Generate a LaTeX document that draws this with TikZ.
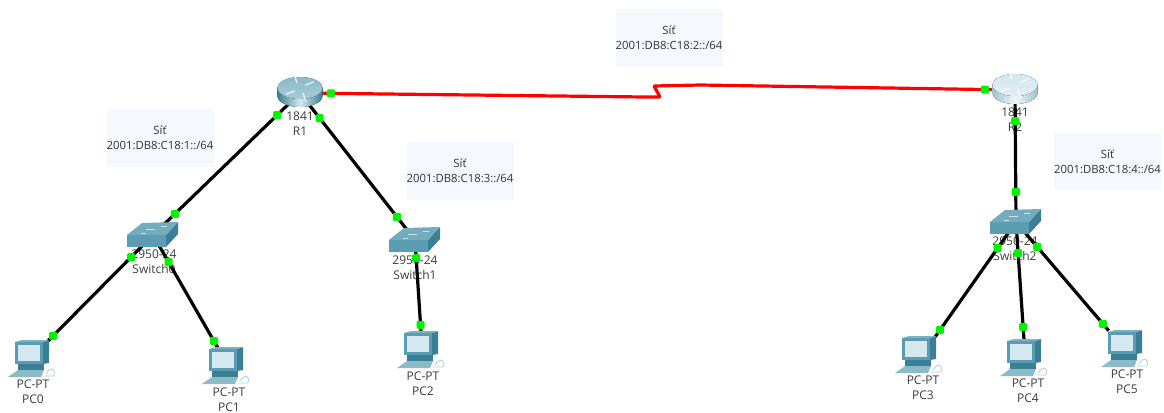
\documentclass[tikz,border=0pt]{standalone}
\usepackage{fontspec}
\setmainfont{Open Sans}
\usetikzlibrary{positioning}
\definecolor{mNetBox}{HTML}{F6F8FF}
\definecolor{mLabel}{HTML}{3C3C3C}
\definecolor{mPort}{HTML}{00F400}
\definecolor{mRed}{HTML}{FF0000}
\definecolor{mTeal}{HTML}{5A9DB2}
\definecolor{mTealDark}{HTML}{3A7F93}
\definecolor{mTealTop}{HTML}{8ABACA}
\definecolor{mScreen}{HTML}{D5E8EF}
\tikzset{
  netbox/.style={fill=mNetBox, minimum width=80.25pt, minimum height=43pt, inner sep=0pt, align=center, text=black!80, font=\fontsize{8.5}{11.2}\selectfont},
  devlabel/.style={inner sep=0pt, align=center, text=mLabel, font=\fontsize{9}{11.2}\selectfont},
  devnode/.style={inner sep=0pt, minimum size=0pt},
  pcnode/.style={inner sep=0pt, minimum width=24pt, minimum height=21pt},
  link/.style={line width=2.4pt, black},
  serial/.style={line width=2.4pt, mRed},
  portdot/.style={fill=mPort, minimum size=6pt, inner sep=0pt, rounded corners=1pt},
  pics/routericon/.style n args={3}{code={
    \fill[left color=#1, right color=#1, middle color=#2] (-22.5,-5) -- (-22.5,3) arc[start angle=180, end angle=0, x radius=22.5, y radius=11] -- (22.5,-5) -- cycle;
    \fill[top color=#3, bottom color=#3!75!white] (0,-5) ellipse[x radius=22.5, y radius=11];
    \foreach \r in {20,110,200,290} {
      \draw[white!75!#3, line width=1.1pt, rotate around={\r:(0,-5)}] (6,-6) -- (15,-6);
    }
  }},
  pics/switchicon/.style={code={
    \fill[mTeal] (-26,0) rectangle (13,12);
    \fill[mTealDark] (13,0) -- (25,-13) -- (25,-1) -- (13,12) -- cycle;
    \fill[mTeal!85!white] (-26,0) -- (-11,-12) -- (25,-13) -- (13,0) -- cycle;
    \draw[white!70!mTeal, line width=.7pt] (-7,-6) -- (2,-6) (8,-9) -- (14,-9) (-12,-2) -- (-7,-2);
  }},
  pics/pcicon/.style={code={
    \fill[mTealDark] (11,-13) -- (17,-15) -- (17,8) -- (11,9) -- cycle;
    \fill[mTeal!80!white] (-17,-13) -- (-10,-15) -- (17,-15) -- (11,-13) -- cycle;
    \fill[mTeal] (-17,-13) rectangle (11,9);
    \fill[mScreen] (-14,-10) rectangle (8,6);
    \fill[mTealDark] (-14,9) rectangle (12,15);
    \fill[mTeal!70!white] (-14,15) -- (12,15) -- (9,22) -- (-24,22) -- cycle;
    \draw[mTeal!50!white, line width=.6pt] (14,19) .. controls (18,12) and (24,12) .. (22,21) -- (12,21);
  }},
}

\begin{document}
\begin{tikzpicture}[x=0.75pt, y=-0.75pt]
    \useasboundingbox (0,0) rectangle (1164,412);
    % network labels
    \foreach \n/\x/\y/\k in {N1/160/138/1, N2/669/38/2, N3/460/171/3, N4/1107.5/161.5/4} {
      \node[netbox] (\n) at (\x,\y) {Síť\\2001:DB8:C18:\k::/64};
    }
    % devices
    \node[devnode] (R1) at (300,93) {};
    \node[devnode] (R2) at (1015,90) {};
    \node[devnode] (S0) at (153,235) {};
    \node[devnode] (S1) at (415,240) {};
    \node[devnode] (S2) at (1016,222) {};
    \foreach \n/\x/\y in {PC0/32/355, PC1/226/362, PC2/421/346, PC3/919/351, PC4/1024/354, PC5/1125/345} {
      \node[pcnode] (\n) at (\x,\y) {};
    }
    % captions
    \node[devlabel] (lblR1) at (300,123.5) {1841\\R1};
    \node[devlabel] (lblR2) at (1015,120) {1841\\R2};
    \node[devlabel] (lblS0) at (154,261.5) {2950-24\\Switch0};
    \node[devlabel] (lblS1) at (415,267.5) {2950-24\\Switch1};
    \node[devlabel] (lblS2) at (1015,248.5) {2950-24\\Switch2};
    \foreach \n/\x/\y in {PC0/33/392, PC1/229/399.5, PC2/423/384, PC3/923/388, PC4/1028/391, PC5/1127/382} {
      \node[devlabel] (lbl\n) at (\x,\y) {PC-PT\\\n};
    }
    % cables
    \foreach \a/\b/\pa/\pb [count=\i] in {R1/S0/.155/.852, R1/S1/.17/.844, S0/PC0.north east/.206/.953, S0/PC1.120/.239/.938, S1/PC2.north/.196/.924, R2/S2/.235/.773, S2/PC3.north east/.226/.939, S2/PC4.north/.263/.89, S2/PC5.north west/.227/.936} {
      \draw[link] (\a) -- node[portdot, pos=\pa] (dot\i a) {} node[portdot, pos=\pb] (dot\i b) {} (\b);
    }
    \coordinate (k1) at (645,97);
    \coordinate (k2) at (660,97);
    \coordinate (k3) at (654,86);
    \coordinate (k4) at (700,85);
    \draw[serial, line join=bevel] (R1) -- node[portdot, pos=.089] (dotR1) {} (k1) -- (k2) -- (k3) -- (k4) -- node[portdot, pos=.905] (dotR2) {} (R2);
    % icons on top of the cables
    \pic at (R1) {routericon={mTealDark}{mScreen}{mTealTop}};
    \pic at (R2) {routericon={mTeal!60!white}{white!90!mTeal}{mScreen}};
    \foreach \n in {S0,S1,S2} { \pic at (\n) {switchicon}; }
    \foreach \n in {PC0,PC1,PC2,PC3,PC4,PC5} { \pic at (\n) {pcicon}; }
  \end{tikzpicture}
\end{document}
